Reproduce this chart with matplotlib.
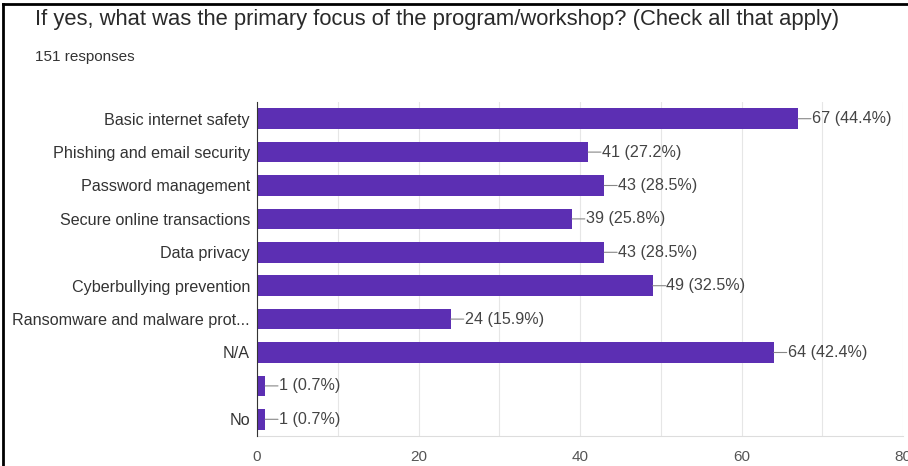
import matplotlib.pyplot as plt
from matplotlib.lines import Line2D
from matplotlib.ticker import MultipleLocator

plt.rcParams['font.family'] = ['Liberation Sans', 'DejaVu Sans']

# survey answers, top to bottom
labels = ['Basic internet safety', 'Phishing and email security', 'Password management',
          'Secure online transactions', 'Data privacy', 'Cyberbullying prevention',
          'Ransomware and malware prot...', 'N/A', '', 'No']
counts = [67, 41, 43, 39, 43, 49, 24, 64, 1, 1]
percents = [44.4, 27.2, 28.5, 25.8, 28.5, 32.5, 15.9, 42.4, 0.7, 0.7]
total = 151

bar_color = '#5c2fb3'
text_gray = '#444444'

fig = plt.figure(figsize=(9.08, 4.66), dpi=100)
ax = fig.add_axes([257 / 908, 1 - 436 / 466, 646 / 908, 334 / 466])

pos = list(range(len(labels)))
ax.barh(pos, counts, height=0.62, color=bar_color, zorder=3)
ax.set_ylim(len(labels) - 0.5, -0.5)
ax.set_xlim(0, 80)
ax.set_yticks(pos)
ax.set_yticklabels(labels, fontsize=11.6, color='#333333')
ax.xaxis.set_major_locator(MultipleLocator(20))
ax.xaxis.set_minor_locator(MultipleLocator(10))
ax.tick_params(axis='y', length=0, pad=5)
ax.tick_params(axis='x', which='both', length=0, pad=10, labelsize=11, labelcolor='#555555')
ax.grid(axis='x', which='both', color='#e6e6e6', lw=0.8, zorder=0)

for s in ['top', 'right']:
    ax.spines[s].set_visible(False)
ax.spines['bottom'].set_color('#dddddd')
ax.spines['left'].set_color('#333333')
ax.spines['left'].set_zorder(4)

# value labels with a short leader line
for y, c, p in zip(pos, counts, percents):
    ax.annotate('', xy=(c, y), xytext=(c + 1.6, y),
                arrowprops=dict(arrowstyle='-', color='#888888', lw=0.8, shrinkA=0, shrinkB=0))
    ax.text(c + 1.7, y, f'{c} ({p}%)', va='center', ha='left', fontsize=11.6, color=text_gray)

fig.text(35 / 908, 1 - 19 / 466, 'If yes, what was the primary focus of the program/workshop? (Check all that apply)',
         fontsize=15.8, color='#2a2a2a', va='center', ha='left')
fig.text(35 / 908, 1 - 57 / 466, f'{total} responses', fontsize=11, color='#333333', va='center', ha='left')

# frame lines along the top and left edge
fig.add_artist(Line2D([3 / 908, 1], [1 - 4 / 466, 1 - 4 / 466], color='black', lw=2, transform=fig.transFigure))
fig.add_artist(Line2D([3 / 908, 3 / 908], [0, 1 - 4 / 466], color='black', lw=2, transform=fig.transFigure))

fig.savefig('out.png', dpi=100)
